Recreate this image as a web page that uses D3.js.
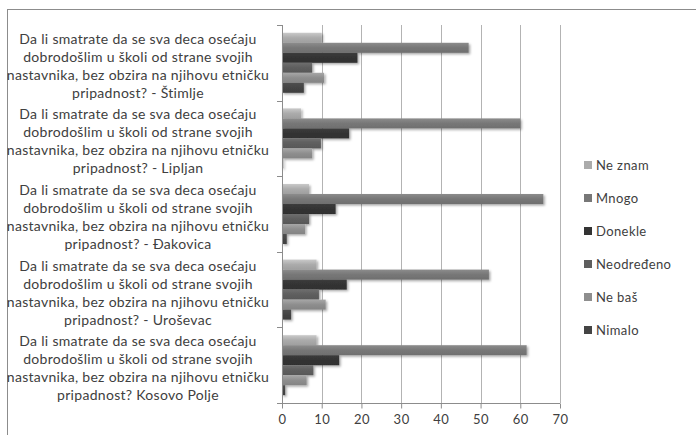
<!DOCTYPE html>
<html><head><meta charset="utf-8">
<script src="https://cdn.jsdelivr.net/npm/d3@7"></script>
<style>body{margin:0;background:#fff}svg{display:block}text{font-family:Lato,"Open Sans",sans-serif;fill:#404040}</style>
</head><body><svg id="c" width="696" height="435"></svg>
<script>
const categories = [
  "Da li smatrate da se sva deca osećaju|dobrodošlim u školi od strane svojih|nastavnika, bez obzira na njihovu etničku|pripadnost? - Štimlje",
  "Da li smatrate da se sva deca osećaju|dobrodošlim u školi od strane svojih|nastavnika, bez obzira na njihovu etničku|pripadnost? - Lipljan",
  "Da li smatrate da se sva deca osećaju|dobrodošlim u školi od strane svojih|nastavnika, bez obzira na njihovu etničku|pripadnost? - Đakovica",
  "Da li smatrate da se sva deca osećaju|dobrodošlim u školi od strane svojih|nastavnika, bez obzira na njihovu etničku|pripadnost? - Uroševac",
  "Da li smatrate da se sva deca osećaju|dobrodošlim u školi od strane svojih|nastavnika, bez obzira na njihovu etničku|pripadnost? Kosovo Polje"
];
const seriesNames = ["Ne znam", "Mnogo", "Donekle", "Neodređeno", "Ne baš", "Nimalo"];
const neZnam      = [10, 4.8, 6.8, 8.7, 8.7];
const mnogo       = [47, 60, 65.8, 52.1, 61.6];
const donekle     = [19, 16.9, 13.5, 16.3, 14.4];
const neodredjeno = [7.6, 9.8, 6.8, 9.3, 7.9];
const neBas       = [10.6, 7.6, 5.8, 11, 6.2];
const nimalo      = [5.5, 0.3, 1.2, 2.3, 0.8];
const xTicks = [0, 10, 20, 30, 40, 50, 60, 70];
const seriesValues = [neZnam, mnogo, donekle, neodredjeno, neBas, nimalo];
const colors = ["#ababab", "#777777", "#333333", "#5e5e5e", "#8e8e8e", "#444444"];

const svg = d3.select("#c");
const defs = svg.append("defs");
const f = defs.append("filter").attr("id","sh").attr("x","-10%").attr("y","-30%").attr("width","130%").attr("height","180%");
f.append("feDropShadow").attr("dx",1.5).attr("dy",1.5).attr("stdDeviation",1.2).attr("flood-color","#000").attr("flood-opacity",0.35);
colors.forEach((c,i)=>{
  const g = defs.append("linearGradient").attr("id","g"+i).attr("x1",0).attr("y1",0).attr("x2",0).attr("y2",1);
  g.append("stop").attr("offset","0%").attr("stop-color", d3.color(c).brighter(0.45));
  g.append("stop").attr("offset","50%").attr("stop-color", c);
  g.append("stop").attr("offset","100%").attr("stop-color", d3.color(c).darker(0.2));
});

// frame
svg.append("rect").attr("x",7.5).attr("y",9.5).attr("width",720).attr("height",460)
  .attr("fill","none").attr("stroke","#8c8c8c");

const x = d3.scaleLinear().domain([0,70]).range([282,560]);
const y = d3.scaleBand().domain(categories).range([25,403]);
const ys = d3.scaleBand().domain(seriesNames).range([0,y.bandwidth()]).paddingOuter(0.78);

// gridlines
svg.append("g").selectAll("line").data(xTicks.slice(1)).join("line")
  .attr("x1",d=>Math.round(x(d))+0.5).attr("x2",d=>Math.round(x(d))+0.5)
  .attr("y1",25).attr("y2",403).attr("stroke","#b3b3b3");

// bars
const rows = [];
categories.forEach((c,ci)=>seriesNames.forEach((s,si)=>rows.push({c,s,si,v:seriesValues[si][ci]})));
svg.append("g").attr("filter","url(#sh)").selectAll("rect").data(rows).join("rect")
  .attr("x",x(0)).attr("y",d=>y(d.c)+ys(d.s)).attr("height",ys.bandwidth())
  .attr("width",d=>x(d.v)-x(0)).attr("fill",d=>"url(#g"+d.si+")");

// x axis
const xa = svg.append("g").attr("transform","translate(0,403.5)")
  .call(d3.axisBottom(x).tickValues(xTicks).tickSize(5).tickPadding(6));
xa.select(".domain").attr("stroke","#8c8c8c").attr("d","M277,0H560");
xa.selectAll(".tick line").attr("stroke","#8c8c8c");
xa.selectAll("text").attr("font-size",13).style("font-family","Lato,sans-serif").attr("fill","#404040").style("letter-spacing","0.5px");

// y axis
const ya = svg.append("g").attr("transform","translate(282.5,0)")
  .call(d3.axisLeft(y).tickSize(0).tickFormat(""));
ya.select(".domain").attr("stroke","#8c8c8c").attr("d","M0,25V403");
ya.selectAll(".tick").remove();
const bounds = d3.range(categories.length+1).map(i=> i<categories.length ? y(categories[i]) : 403);
svg.append("g").selectAll("line").data(bounds).join("line")
  .attr("x1",277).attr("x2",282.5).attr("y1",d=>Math.round(d)+0.5).attr("y2",d=>Math.round(d)+0.5)
  .attr("stroke","#8c8c8c");

// category labels
const lab = svg.append("g");
categories.forEach(c=>{
  const lines = c.split("|");
  const cy = y(c)+y.bandwidth()/2 + 3;
  const lh = 18;
  const t = lab.append("text").attr("text-anchor","middle").attr("font-size",14).style("letter-spacing","0.3px");
  lines.forEach((l,i)=>{
    t.append("tspan").attr("x",138).attr("y",cy + (i-(lines.length-1)/2)*lh + 5).text(l);
  });
});

// legend
const lg = svg.append("g").selectAll("g").data(seriesNames).join("g")
  .attr("transform",(d,i)=>`translate(584,${165+i*33})`);
lg.append("rect").attr("x",0).attr("y",-4).attr("width",8).attr("height",8)
  .attr("fill",(d,i)=>colors[i]);
lg.append("text").attr("x",12).attr("y",4.5).attr("font-size",13).style("letter-spacing","0.4px").text(d=>d);
</script></body></html>
